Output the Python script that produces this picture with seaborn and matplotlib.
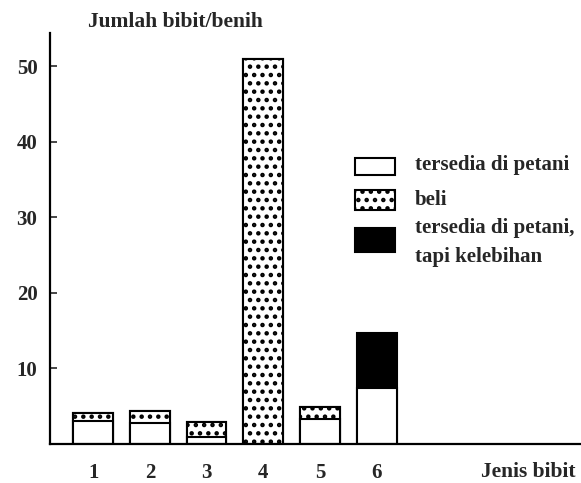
import numpy as np
import pandas as pd
import seaborn as sns
import matplotlib.pyplot as plt
from matplotlib.patches import Rectangle

# jenis bibit and the three parts of each bar
jenis = [1, 2, 3, 4, 5, 6]
tersedia = [3.0, 2.8, 0.9, 0.0, 3.3, 7.4]
beli = [1.1, 1.6, 2.0, 51.0, 1.6, 0.0]
kelebihan = [0.0, 0.0, 0.0, 0.0, 0.0, 7.3]
y_ticks = [10, 20, 30, 40, 50]

sns.set_style('white')
plt.rcParams['font.family'] = ['Liberation Serif', 'DejaVu Serif']
plt.rcParams['font.weight'] = 'bold'
plt.rcParams['hatch.linewidth'] = 2.0

df = pd.DataFrame({'jenis': jenis, 'tersedia': tersedia, 'beli': beli, 'kelebihan': kelebihan})
df['lvl_beli'] = df['tersedia'] + df['beli']
df['lvl_total'] = df['lvl_beli'] + df['kelebihan']

fig = plt.figure(figsize=(5.81, 4.83), dpi=100)
ax = fig.add_axes([0.086, 0.081, 0.914, 0.851])

# stacked by drawing cumulative levels from the top down
sns.barplot(data=df, x='jenis', y='lvl_total', native_scale=True, width=0.7,
            color='black', edgecolor='black', linewidth=1.5, ax=ax)
sns.barplot(data=df[df['beli'] > 0], x='jenis', y='lvl_beli', native_scale=True, width=0.7,
            color='white', edgecolor='black', linewidth=1.5, hatch='..', ax=ax)
sns.barplot(data=df[df['tersedia'] > 0], x='jenis', y='tersedia', native_scale=True, width=0.7,
            color='white', edgecolor='black', linewidth=1.5, ax=ax)

ax.set_xlim(0.24, 9.6)
ax.set_ylim(0, 54.4)
ax.set_xticks(jenis)
ax.set_xticklabels([str(j) for j in jenis], fontsize=15)
ax.set_yticks(y_ticks)
ax.set_yticklabels([str(t) for t in y_ticks], fontsize=15)
ax.tick_params(axis='x', length=0, pad=14)
ax.tick_params(axis='y', direction='in', length=5, width=1.2, pad=9, left=True)
ax.set_xlabel('')
ax.set_ylabel('')
sns.despine(ax=ax)
for s in ['left', 'bottom']:
    ax.spines[s].set_color('black')
    ax.spines[s].set_linewidth(1.6)

ax.text(0.072, 1.027, 'Jumlah bibit/benih', transform=ax.transAxes,
        fontsize=15.5, fontweight='bold', va='center', ha='left')
ax.text(0.9, -0.068, 'Jenis bibit', transform=ax.transAxes,
        fontsize=15.5, fontweight='bold', va='center', ha='center')

# legend drawn by hand: boxes and labels
boxes = [(0.6545, 0.0414, 'white', None), (0.569, 0.0487, 'white', '..'), (0.467, 0.0584, 'black', None)]
for y0, h, fc, hatch in boxes:
    ax.add_patch(Rectangle((0.574, y0), 0.0753, h, transform=ax.transAxes, facecolor=fc,
                           edgecolor='black', linewidth=1.5, hatch=hatch, clip_on=False))
labels = [(0.679, 'tersedia di petani'), (0.594, 'beli'),
          (0.526, 'tersedia di petani,'), (0.455, 'tapi kelebihan')]
for y0, lab in labels:
    ax.text(0.687, y0, lab, transform=ax.transAxes, fontsize=15, fontweight='bold',
            va='center', ha='left')

fig.savefig('out.png', dpi=100)
